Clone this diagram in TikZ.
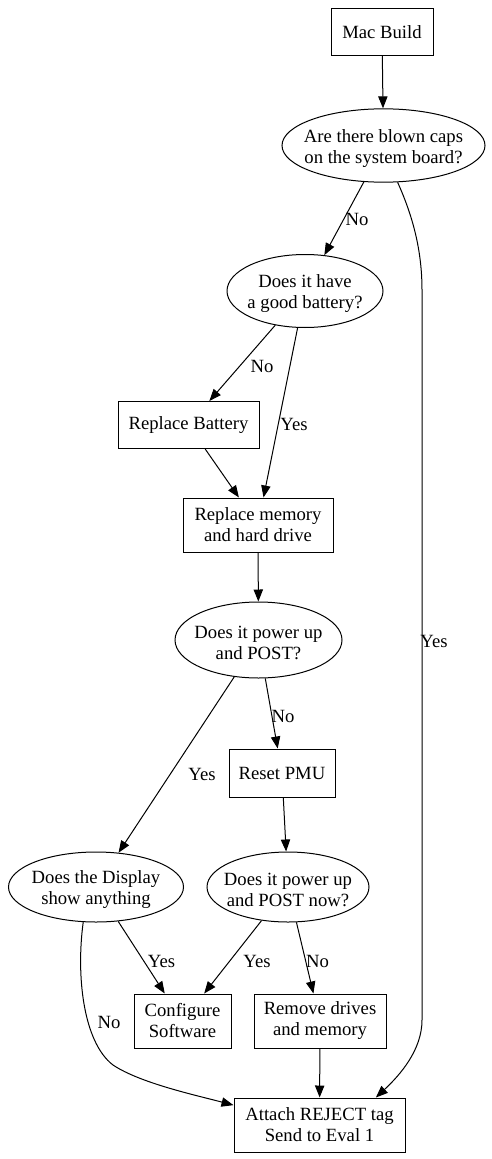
\documentclass[tikz,border=0pt]{standalone}
\usepackage{fontspec}
\setmainfont{Liberation Serif}
\usetikzlibrary{shapes.geometric,arrows.meta}
\begin{document}
\begin{tikzpicture}[x=0.75pt,y=-0.75pt,
  font=\fontsize{14pt}{15.75pt}\selectfont,
  every node/.style={inner sep=0pt, align=center},
  boxn/.style={draw, rectangle, line width=0.75pt},
  elln/.style={draw, ellipse, line width=0.75pt},
  elltext/.style={align=center, yshift=-2pt},
  conn/.style={draw, line width=0.75pt, -{Triangle[length=9pt,width=7pt]}},
  lbl/.style={anchor=base}
]
\useasboundingbox[fill=white] (0,0) rectangle (492,1159);

% nodes
\node[boxn, minimum width=76.5pt, minimum height=35.25pt] (mac) at (382,32) {Mac Build};
\node[elln, minimum width=152.25pt, minimum height=55pt,
  label={[elltext]center:Are there blown caps\\on the system board?}] (caps) at (383.5,145.5) {};
\node[elln, minimum width=117pt, minimum height=54.75pt,
  label={[elltext]center:Does it have\\a good battery?}] (batq) at (305,291) {};
\node[boxn, minimum width=105.75pt, minimum height=35.25pt] (repbat) at (188.5,425) {Replace Battery};
\node[boxn, minimum width=112.5pt, minimum height=40.5pt] (repmem) at (258,525) {Replace memory\\and hard drive};
\node[elln, minimum width=125.25pt, minimum height=57pt,
  label={[elltext]center:Does it power up\\and POST?}] (post) at (258.5,640) {};
\node[boxn, minimum width=79.5pt, minimum height=36pt] (reset) at (282,773) {Reset PMU};
\node[elln, minimum width=131.25pt, minimum height=52.5pt,
  label={[elltext]center:Does the Display\\show anything}] (disp) at (96,887) {};
\node[elln, minimum width=121.5pt, minimum height=52.5pt,
  label={[elltext]center:Does it power up\\and POST now?}] (now) at (288,887) {};
\node[boxn, minimum width=72.75pt, minimum height=40.5pt] (conf) at (182.5,1021) {Configure\\Software};
\node[boxn, minimum width=99pt, minimum height=40.5pt] (remove) at (320,1021) {Remove drives\\and memory};
\node[boxn, minimum width=128.25pt, minimum height=40.5pt] (attach) at (319.5,1125) {Attach REJECT tag\\Send to Eval 1};

% connectors
\draw[conn] (mac) -- (caps);
\draw[conn] (caps) -- (batq);
\draw[conn] (batq) -- (repbat);
\draw[conn] (batq) -- (repmem);
\draw[conn] (repbat) -- (repmem);
\draw[conn] (repmem) -- (post);
\draw[conn] (post) -- (reset);
\draw[conn] (post) -- (disp);
\draw[conn] (reset) -- (now);
\draw[conn] (disp) -- (conf);
\draw[conn] (now) -- (conf);
\draw[conn] (now) -- (remove);
\draw[conn] (remove) -- (attach);
\draw[conn] (disp.250) .. controls (76,975) and (83,1042) .. (113,1065)
  .. controls (140,1083) and (195,1095) .. (attach.167);
\draw[conn] (caps.291) .. controls (410,210) and (422,245) .. (422,290)
  -- (422,1020) .. controls (422,1050) and (400,1075) .. (attach.26);

% edge labels
\node[lbl] (l1) at (357,225) {No};
\node[lbl] (l2) at (262,372) {No};
\node[lbl] (l3) at (294,430) {Yes};
\node[lbl] (l4) at (283,722) {No};
\node[lbl] (l5) at (202,780) {Yes};
\node[lbl] (l6) at (161.5,967) {Yes};
\node[lbl] (l7) at (257,967) {Yes};
\node[lbl] (l8) at (317.5,967) {No};
\node[lbl] (l9) at (109,1028) {No};
\node[lbl] (l10) at (434,647) {Yes};
\end{tikzpicture}
\end{document}
